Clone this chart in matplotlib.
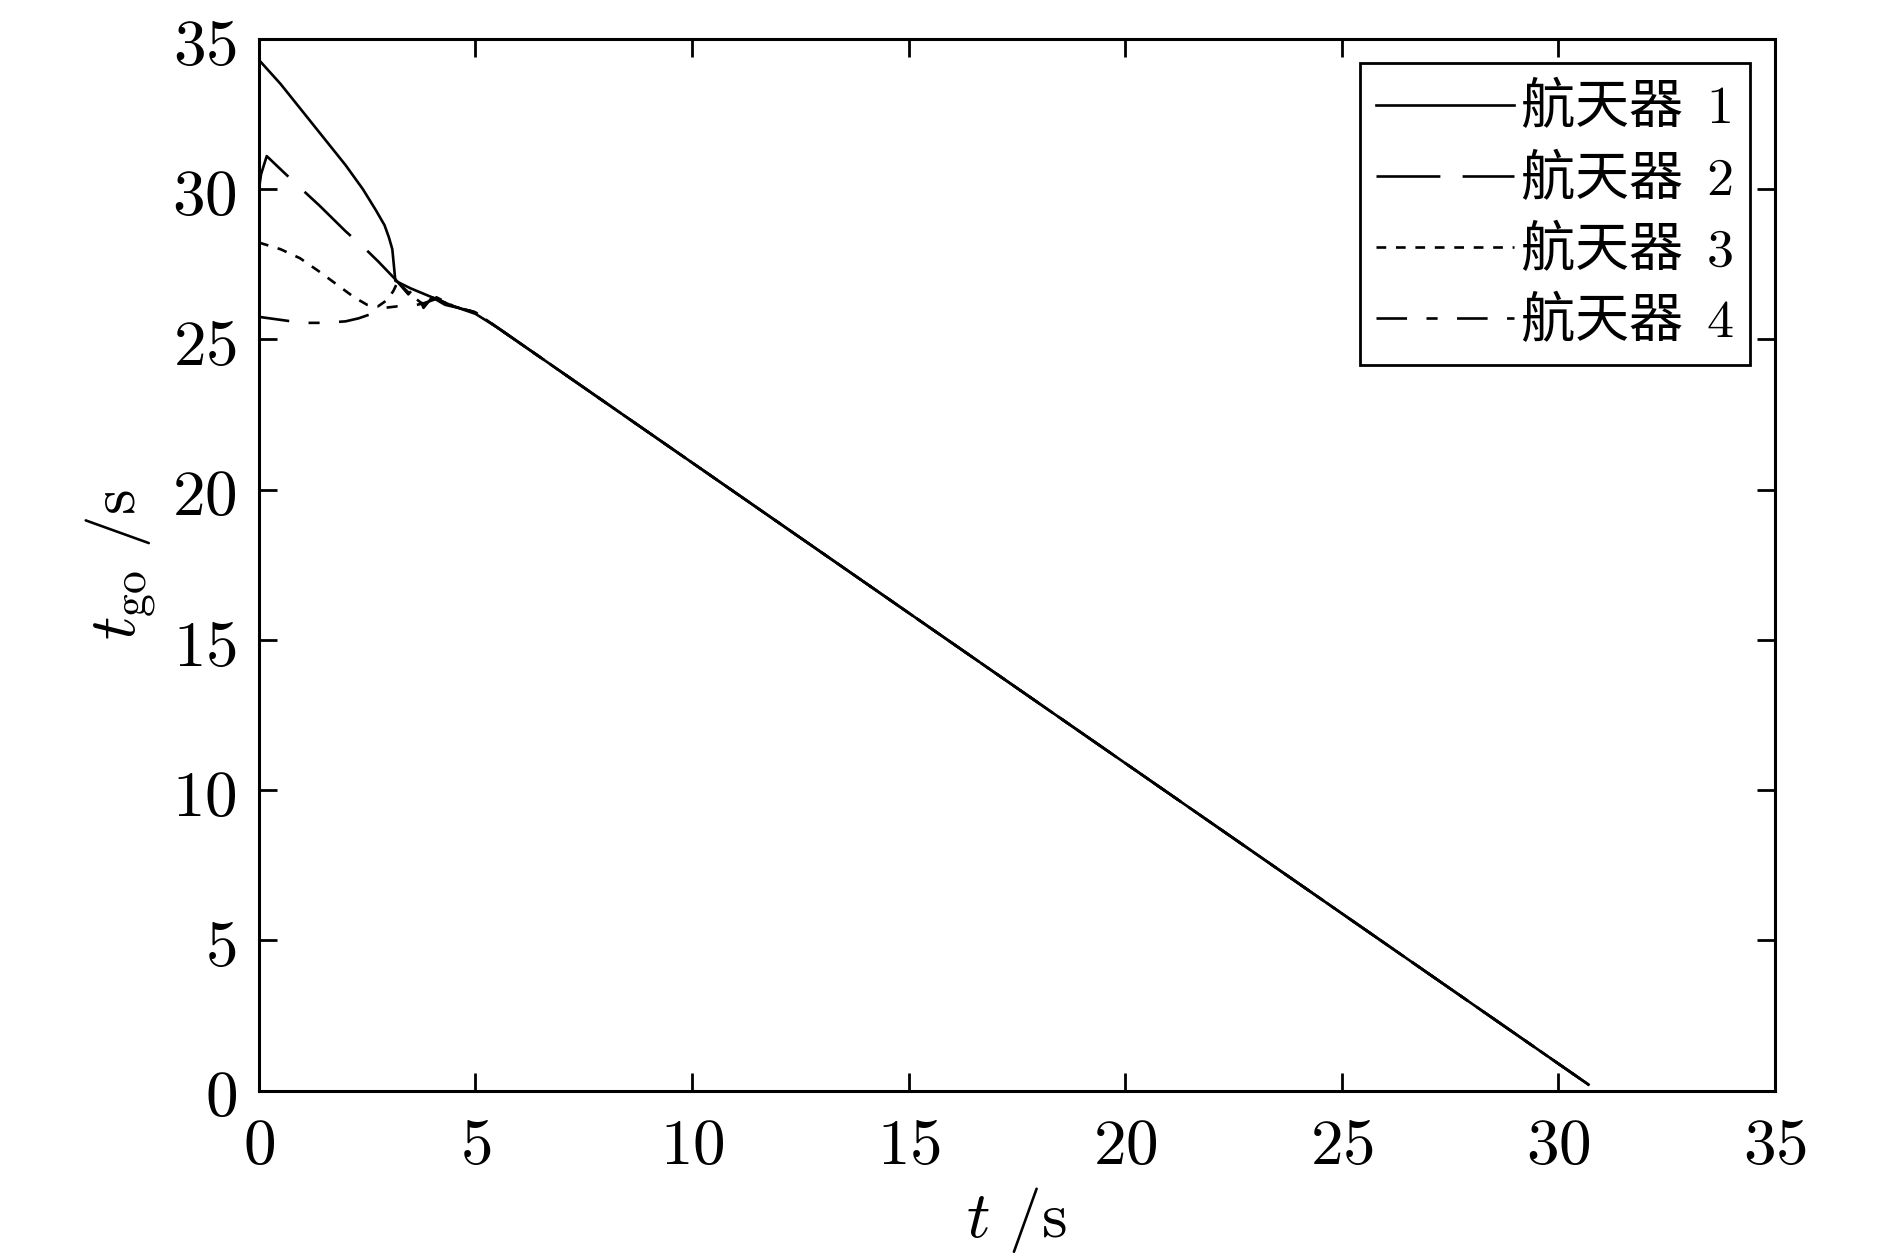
# -*- coding: utf-8 -*-
import numpy as np
import matplotlib
matplotlib.use("Agg")
import matplotlib.pyplot as plt
from matplotlib import ticker

plt.rcParams["font.family"] = ["Noto Sans CJK SC", "DejaVu Sans"]
plt.rcParams["mathtext.fontset"] = "cm"
plt.rcParams["lines.scale_dashes"] = False

# t_go of each spacecraft vs time
t1 = [0, 0.5, 1.0, 1.5, 2.0, 2.4, 2.7, 2.9, 3.0, 3.08, 3.12, 3.15, 3.5, 4.0, 4.5, 5.0, 5.5, 30.7]
y1 = [34.3, 33.5, 32.6, 31.7, 30.8, 30.0, 29.3, 28.8, 28.4, 28.0, 27.4, 26.95, 26.7, 26.4, 26.1, 25.85, 25.4, 0.2]

t2 = [0, 0.05, 0.18, 0.8, 1.4, 2.0, 2.5, 2.75, 3.15, 3.45, 3.6, 3.8, 4.0, 4.3, 4.6, 5.0, 5.5, 30.7]
y2 = [30.0, 30.5, 31.1, 30.25, 29.45, 28.6, 27.95, 27.6, 27.0, 26.5, 26.75, 26.05, 26.4, 26.15, 26.05, 25.9, 25.4, 0.2]

t3 = [0, 0.05, 0.5, 0.95, 1.4, 1.87, 2.2, 2.5, 2.75, 2.95, 3.1, 3.2, 3.5, 3.8, 4.1, 4.5, 5.0, 5.5, 30.7]
y3 = [28.2, 28.2, 28.0, 27.7, 27.25, 26.75, 26.4, 26.15, 26.1, 26.3, 26.6, 26.9, 26.5, 26.15, 26.4, 26.1, 25.9, 25.4, 0.2]

t4 = [0, 0.5, 1.0, 1.5, 2.0, 2.3, 2.6, 2.9, 3.2, 3.5, 3.8, 4.1, 4.5, 5.0, 5.5, 30.7]
y4 = [25.75, 25.65, 25.55, 25.55, 25.6, 25.7, 25.85, 26.05, 26.1, 26.1, 26.2, 26.35, 26.1, 25.9, 25.4, 0.2]

labels = ["航天器  $1$", "航天器  $2$", "航天器  $3$", "航天器  $4$"]
styles = ["-", (0, (46, 16)), (0, (7, 7)), (0, (22, 14, 8, 14))]

fig = plt.figure(figsize=(18.9, 12.55), dpi=100)
ax = fig.add_axes([0.137, 0.131, 0.802, 0.838])

for t, y, lab, ls in zip([t1, t2, t3, t4], [y1, y2, y3, y4], labels, styles):
    ax.plot(t, y, color="black", lw=1.9, ls=ls, label=lab)

ax.set_xlim(0, 35)
ax.set_ylim(0, 35)
ax.set_xticks(np.arange(0, 36, 5))
ax.set_yticks(np.arange(0, 36, 5))
fmt = ticker.FuncFormatter(lambda v, p: "$%d$" % v)
ax.xaxis.set_major_formatter(fmt)
ax.yaxis.set_major_formatter(fmt)
ax.tick_params(direction="in", length=13, width=2, labelsize=47, pad=16,
               top=True, right=True)
for s in ax.spines.values():
    s.set_linewidth(2.2)

ax.set_xlabel(r"$t\ /\mathrm{s}$", fontsize=47, labelpad=4)
ax.set_ylabel(r"$t_{\mathrm{go}}\ /\mathrm{s}$", fontsize=47, labelpad=10)

leg = ax.legend(loc="upper right", fontsize=39, handlelength=2.55, handletextpad=0.1,
                labelspacing=0.28, borderaxespad=0.45, fancybox=False,
                framealpha=1, edgecolor="black", borderpad=0.3)
leg.get_frame().set_linewidth(2)

fig.savefig("out.png", dpi=100)
